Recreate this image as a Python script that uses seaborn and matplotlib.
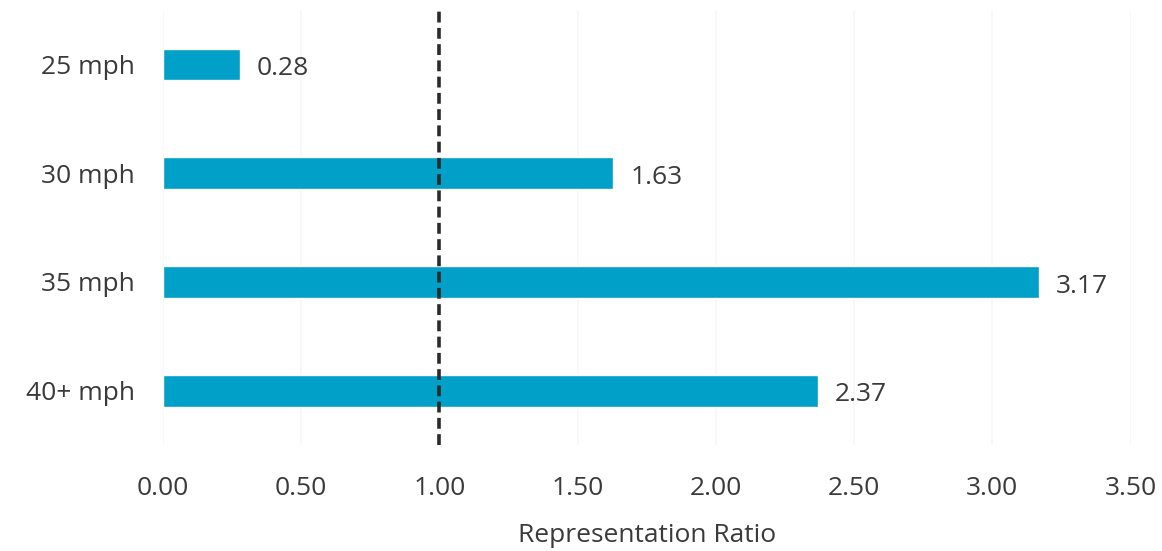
import matplotlib.pyplot as plt
import pandas as pd
import seaborn as sns

speeds = ["25 mph", "30 mph", "35 mph", "40+ mph"]
ratios = [0.28, 1.63, 3.17, 2.37]
ticks = [0.0, 0.5, 1.0, 1.5, 2.0, 2.5, 3.0, 3.5]
reference = 1.0

sns.set_theme(style="white")
plt.rcParams["font.family"] = ["Open Sans", "DejaVu Sans"]

df = pd.DataFrame({"Speed": speeds, "Ratio": ratios})

fig = plt.figure(figsize=(11.62, 5.51), dpi=100)
ax = fig.add_axes([0.140, 0.192, 0.833, 0.79])

sns.barplot(data=df, x="Ratio", y="Speed", color="#00a0c8", saturation=1,
            width=0.29, ax=ax, zorder=2)

ax.set_xlim(0, 3.5)
ax.set_ylim(3.5, -0.5)
ax.set_xticks(ticks)
ax.set_xticklabels(["{:.2f}".format(t) for t in ticks])
ax.grid(axis="x", color="#f7f7f7", linewidth=1.2, zorder=0)

ax.axvline(reference, color="#2a2a2a", linestyle=(0, (3, 1.5)), linewidth=2.6, zorder=3)

for i, v in enumerate(ratios):
    ax.annotate("{:.2f}".format(v), (v, i), xytext=(12, -3), textcoords="offset points",
                va="center", ha="left", fontsize=19, color="#3a3a3a")

ax.tick_params(axis="both", length=0, labelsize=19, labelcolor="#3a3a3a")
ax.tick_params(axis="x", pad=22)
ax.tick_params(axis="y", pad=20)
ax.set_xlabel("Representation Ratio", fontsize=19, color="#3a3a3a", labelpad=16)
ax.set_ylabel("")
for s in ax.spines.values():
    s.set_visible(False)

fig.savefig("out.png", dpi=100, facecolor="white")
